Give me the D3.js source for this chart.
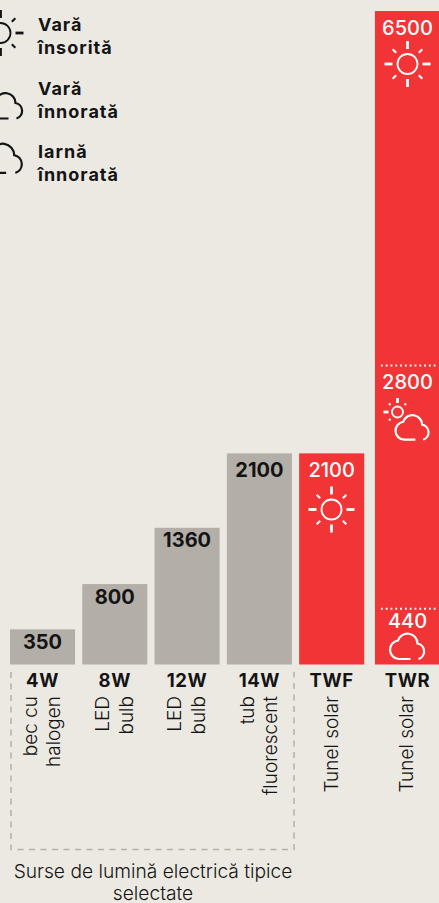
<!DOCTYPE html>
<html>
<head>
<meta charset="utf-8">
<script src="https://d3js.org/d3.v7.min.js"></script>
<style>
    html, body { margin: 0; padding: 0; background: #ece9e2; overflow: hidden; }
    text { font-family: Inter, Roboto, sans-serif; }
</style>
</head>
<body>
<div id="chart"></div>
<script>
const categories = ["4W", "8W", "12W", "14W", "TWF", "TWR"];
const values = [350, 800, 1360, 2100, 2100, 6500];
const sourceLabels = [
    ["bec cu", "halogen"],
    ["LED", "bulb"],
    ["LED", "bulb"],
    ["tub", "fluorescent"],
    ["Tunel solar"],
    ["Tunel solar"]
];
const twrLevels = [6500, 2800, 440];
const legendLabels = [
    ["Vară", "însorită"],
    ["Vară", "înnorată"],
    ["Iarnă", "înnorată"]
];
const groupLabel = ["Surse de lumină electrică tipice", "selectate"];

const width = 439, height = 903;
const red = "#f13536", grey = "#b3afa8", ink = "#141414";

const svg = d3.select("#chart").append("svg")
    .attr("width", width)
    .attr("height", height)
    .style("display", "block");

const x = d3.scaleBand().domain(categories).range([10, 436.5]).paddingInner(0.1).paddingOuter(0);
const y = d3.scaleLinear().domain([0, 6500]).range([664.5, 11]);

// TWR sits a little apart from the other bars
const barX = d => x(d) + (d === "TWR" ? 3.5 : 0);
const mid = d => barX(d) + x.bandwidth() / 2;

const rows = categories.map((c, i) => ({ cat: c, value: values[i], lines: sourceLabels[i] }));

svg.append("g")
    .selectAll("rect")
    .data(rows)
    .join("rect")
    .attr("x", d => barX(d.cat))
    .attr("y", d => y(d.value))
    .attr("width", x.bandwidth())
    .attr("height", d => y(0) - y(d.value))
    .attr("fill", d => d.cat.startsWith("TW") ? red : grey);

// values on the bars
svg.append("g")
    .selectAll("text")
    .data(rows.filter(d => d.cat !== "TWR"))
    .join("text")
    .attr("x", d => mid(d.cat))
    .attr("y", d => y(d.value) + (d.value >= 2100 ? 23.5 : 19.5))
    .attr("text-anchor", "middle")
    .attr("font-size", 20)
    .attr("font-weight", d => d.cat === "TWF" ? 500 : 700)
    .attr("fill", d => d.cat === "TWF" ? "#fff" : ink)
    .text(d => d.value);

// TWR levels
svg.append("g")
    .selectAll("text")
    .data(twrLevels)
    .join("text")
    .attr("x", mid("TWR"))
    .attr("y", d => d === 6500 ? y(d) + 24 : d === 2800 ? y(d) + 6 : y(d) + 8)
    .attr("text-anchor", "middle")
    .attr("font-size", 20)
    .attr("font-weight", 500)
    .attr("fill", "#fff")
    .text(d => d);

svg.append("g")
    .selectAll("line")
    .data(twrLevels.slice(1))
    .join("line")
    .attr("x1", barX("TWR") + 6)
    .attr("x2", width - 1)
    .attr("y1", d => d === 2800 ? y(d) - 17.5 : y(d) - 11.5)
    .attr("y2", d => d === 2800 ? y(d) - 17.5 : y(d) - 11.5)
    .attr("stroke", "#fff")
    .attr("stroke-width", 1.8)
    .attr("stroke-dasharray", "1.8 3");

// power labels under the bars
const axis = svg.append("g")
    .attr("transform", `translate(0,${y(0)})`)
    .call(d3.axisBottom(x).tickSize(0).tickPadding(9));
axis.select(".domain").remove();
axis.selectAll(".tick")
    .attr("transform", d => `translate(${mid(d)},0)`);
axis.selectAll("text")
    .attr("font-family", "Inter, Roboto, sans-serif")
    .attr("font-size", 18.5)
    .attr("font-weight", 700)
    .attr("letter-spacing", 0.6)
    .attr("fill", ink);

// rotated source names
const rotated = svg.append("g")
    .selectAll("g")
    .data(rows)
    .join("g");
rotated.selectAll("text")
    .data(d => d.lines.map((t, i) => ({ t, i, n: d.lines.length, c: mid(d.cat) })))
    .join("text")
    .attr("transform", d => `translate(${d.c + 6 + (d.i - (d.n - 1) / 2) * 23.5},696) rotate(-90)`)
    .attr("text-anchor", "end")
    .attr("font-size", 19)
    .attr("font-weight", 300)
    .attr("fill", ink)
    .text(d => d.t);

// dashed bracket round the electric sources
svg.append("path")
    .attr("d", `M11 672V849.5H294V672`)
    .attr("fill", "none")
    .attr("stroke", "#b3b0aa")
    .attr("stroke-width", 1.5)
    .attr("stroke-dasharray", "6 5.5");

svg.append("g")
    .selectAll("text")
    .data(groupLabel)
    .join("text")
    .attr("x", 153)
    .attr("y", (d, i) => 878 + i * 22)
    .attr("text-anchor", "middle")
    .attr("font-size", 19.2)
    .attr("font-weight", 300)
    .attr("fill", ink)
    .text(d => d);

// icons
function sun(cx, cy, r, inner, outer, sw, color, skip = []) {
    const g = svg.append("g")
        .attr("transform", `translate(${cx},${cy})`)
        .attr("fill", "none")
        .attr("stroke", color);
    g.append("circle").attr("r", r).attr("stroke-width", sw);
    d3.range(8).filter(k => !skip.includes(k)).forEach(k => {
        const a = k * Math.PI / 4;
        const isDiag = k % 2 === 1;
        const r1 = isDiag ? inner + 1 : inner, r2 = isDiag ? outer - 2 : outer;
        g.append("line")
            .attr("x1", Math.cos(a) * r1).attr("y1", Math.sin(a) * r1)
            .attr("x2", Math.cos(a) * r2).attr("y2", Math.sin(a) * r2)
            .attr("stroke-width", isDiag ? sw + 0.3 : sw + 1);
    });
}

function cloud(tx, ty, s, color) {
    svg.append("path")
        .attr("transform", `translate(${tx},${ty}) scale(${s})`)
        .attr("d", "M21 26H9.5A9.3 9.3 0 0 1 8.5 7.5A10 10 0 0 1 28 10.5A8 8 0 0 1 29 26")
        .attr("fill", "none")
        .attr("stroke", color)
        .attr("stroke-width", 2.2 / s);
}

sun(331.5, 509.5, 10, 15, 23, 1.8, "#fff");
sun(407.5, 64, 10, 15, 23, 1.8, "#fff");
sun(397.5, 412, 5.5, 9, 14, 1.8, "#fff", [0, 1, 2]);
cloud(395, 414.5, 0.97, "#fff");
cloud(389.5, 633, 1, "#fff");

sun(0.5, 33, 10, 15, 23, 1.8, ink);
cloud(-12.5, 92.5, 1, ink);
cloud(-18, 143, 1.15, ink);

// legend
const legend = svg.append("g")
    .selectAll("g")
    .data(legendLabels)
    .join("g")
    .attr("transform", (d, i) => `translate(38,${[31, 95, 158][i]})`);
legend.selectAll("text")
    .data(d => d)
    .join("text")
    .attr("y", (d, i) => i * 23)
    .attr("font-size", 18)
    .attr("font-weight", 700)
    .attr("letter-spacing", 1)
    .attr("fill", ink)
    .text(d => d);
</script>
</body>
</html>
